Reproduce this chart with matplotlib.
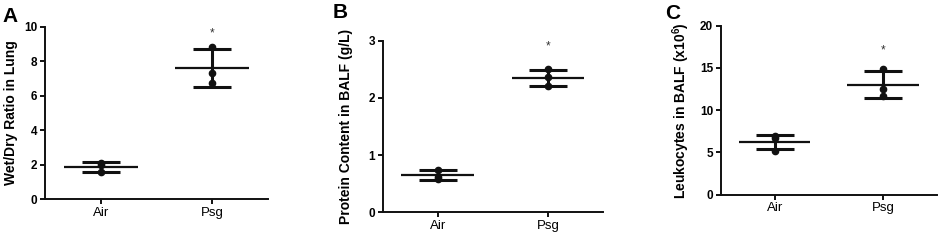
import matplotlib
matplotlib.use("Agg")
import matplotlib.pyplot as plt
import numpy as np

plt.rcParams['font.family'] = ['Liberation Sans', 'DejaVu Sans']
plt.rcParams['mathtext.fontset'] = 'custom'
plt.rcParams['mathtext.rm'] = 'Liberation Sans:bold'
plt.rcParams['mathtext.bf'] = 'Liberation Sans:bold'
plt.rcParams['mathtext.default'] = 'bf'

groups = ['Air', 'Psg']

# Panel A: Wet/Dry ratio
a_air_pts = [2.07, 1.95, 1.55]
a_psg_pts = [8.85, 7.34, 6.72]
a_means = [1.87, 7.6]
a_sd = [0.29, 1.1]
a_star = 9.6

# Panel B: Protein content
b_air_pts = [0.74, 0.62, 0.59]
b_psg_pts = [2.50, 2.36, 2.20]
b_means = [0.65, 2.35]
b_sd = [0.085, 0.14]
b_star = 2.9

# Panel C: Leukocytes
c_air_pts = [7.0, 6.7, 5.2]
c_psg_pts = [14.87, 12.55, 11.7]
c_means = [6.25, 13.0]
c_sd = [0.85, 1.6]
c_star = 17.1

panels = [
    dict(letter='A', air=a_air_pts, psg=a_psg_pts, means=a_means, sd=a_sd, star=a_star,
         ylim=(0, 10), yticks=[0, 2, 4, 6, 8, 10], ylabel='Wet/Dry Ratio in Lung',
         rect=[45/941, 1-199/240, 223/941, (199-26.7)/240], labx=-0.121,
         letpos=(2/941, 1-22/240)),
    dict(letter='B', air=b_air_pts, psg=b_psg_pts, means=b_means, sd=b_sd, star=b_star,
         ylim=(0, 3), yticks=[0, 1, 2, 3], ylabel='Protein Content in BALF (g/L)',
         rect=[382.7/941, 1-212.3/240, 220.3/941, (212.3-40.7)/240], labx=-0.135,
         letpos=(333/941, 1-18/240)),
    dict(letter='C', air=c_air_pts, psg=c_psg_pts, means=c_means, sd=c_sd, star=c_star,
         ylim=(0, 20), yticks=[0, 5, 10, 15, 20], ylabel=r'Leukocytes in BALF (x10$^{6}$)',
         rect=[720.7/941, 1-194.7/240, 216.3/941, (194.7-25.7)/240], labx=-0.133,
         letpos=(665/941, 1-19/240)),
]

fig = plt.figure(figsize=(9.41, 2.4), dpi=100)
col = '#111111'
for p in panels:
    ax = fig.add_axes(p['rect'])
    xs = np.arange(len(groups))
    for i, pts in enumerate([p['air'], p['psg']]):
        ax.plot([xs[i]] * len(pts), pts, 'o', color=col, ms=4.5, zorder=3)
    ax.errorbar(xs, p['means'], yerr=p['sd'], fmt='none', ecolor=col,
                elinewidth=2.2, capsize=14, capthick=2.2, zorder=2)
    ax.hlines(p['means'], xs - 0.33, xs + 0.33, colors=col, lw=1.6, zorder=2)
    ax.text(xs[1], p['star'], '*', ha='center', va='center', fontsize=8.5, color='#333333')
    ax.set_xlim(-0.5, 1.5)
    ax.set_ylim(*p['ylim'])
    ax.set_yticks(p['yticks'])
    ax.set_xticks(xs)
    ax.set_xticklabels(groups, fontsize=9.5)
    for t in ax.get_yticklabels():
        t.set_fontweight('bold')
        t.set_fontsize(8.5)
    ax.spines['top'].set_visible(False)
    ax.spines['right'].set_visible(False)
    for s in ['left', 'bottom']:
        ax.spines[s].set_linewidth(1.4)
        ax.spines[s].set_color(col)
    ax.tick_params(axis='both', width=1.4, length=3.5, color=col, pad=2)
    ax.set_ylabel(p['ylabel'], fontsize=10, fontweight='bold')
    ax.yaxis.set_label_coords(p['labx'], 0.5)
    fig.text(p['letpos'][0], p['letpos'][1], p['letter'], fontsize=15, fontweight='bold',
             ha='left', va='baseline')

fig.savefig('out.png', dpi=100)
